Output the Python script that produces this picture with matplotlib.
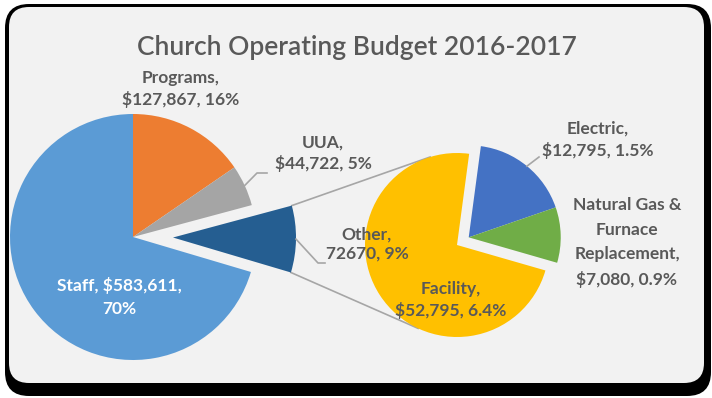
import numpy as np
import matplotlib
matplotlib.use("Agg")
import matplotlib.pyplot as plt
from matplotlib.patches import FancyBboxPatch

plt.rcParams['font.family'] = ['Lato', 'DejaVu Sans']

# main pie: Programs, UUA, Other, Staff (clockwise from 12 o'clock)
main_names = ["Programs", "UUA", "Other", "Staff"]
main_values = [127867, 44722, 72670, 583611]
main_labels = ["Programs,\n$127,867, 16%", "UUA,\n$44,722, 5%",
               "Other,\n72670, 9%", "Staff, $583,611,\n70%"]
main_colors = ["#ED7D31", "#A5A5A5", "#255E91", "#5B9BD5"]

# breakdown of "Other"
sub_names = ["Electric", "Natural Gas & Furnace Replacement", "Facility"]
sub_values = [12795, 7080, 52795]
sub_labels = ["Electric,\n$12,795, 1.5%",
              "Natural Gas &\nFurnace\nReplacement,\n$7,080, 0.9%",
              "Facility,\n$52,795, 6.4%"]
sub_colors = ["#4472C4", "#70AD47", "#FFC000"]

W, H = 712, 398
fig = plt.figure(figsize=(W / 100, H / 100), dpi=100)
ax = fig.add_axes([0, 0, 1, 1])

# chart frame with drop shadow
ax.add_patch(FancyBboxPatch((5, 2), 706, 392, boxstyle="round,pad=0,rounding_size=24",
                            fc="black", ec="none", zorder=0))
ax.add_patch(FancyBboxPatch((9, 15), 695, 376, boxstyle="round,pad=0,rounding_size=20",
                            fc="#F2F2F2", ec="none", zorder=1))

label_col = "#595959"
line_col = "#A6A6A6"

# primary pie, "Other" pulled out
c1, r1 = np.array([133.0, 161.0]), 123.0
explode = [0, 0, 40, 0]
w1, _ = ax.pie(main_values, colors=main_colors, startangle=90, counterclock=False,
               radius=r1, center=tuple(c1), explode=explode, frame=True,
               wedgeprops=dict(linewidth=0))
for w in w1:
    w.set_zorder(3)

# secondary pie
c2, r2 = np.array([457.0, 153.0]), 92.0
w2, _ = ax.pie(sub_values, colors=sub_colors, startangle=82.4, counterclock=False,
               radius=r2, center=tuple(c2), frame=True,
               wedgeprops=dict(linewidth=0))
for w in w2:
    w.set_zorder(3)

# pull Electric + Natural Gas out together along their shared bisector
a_start = w2[0].theta2
a_end = w2[1].theta1
mid = np.deg2rad((a_start + a_end) / 2)
shift = 14.0 * np.array([np.cos(mid), np.sin(mid)])
for w in w2[:2]:
    w.set_center(tuple(c2 + shift))


def polar(c, r, deg):
    a = np.deg2rad(deg)
    return np.asarray(c) + r * np.array([np.cos(a), np.sin(a)])


# connector lines from the exploded "Other" wedge to the secondary pie
other = w1[2]
p_top = polar(other.center, r1, other.theta2)
p_bot = polar(other.center, r1, other.theta1)
q_top = polar(c2, r2, 107)
q_bot = polar(c2, r2, 245)
ax.plot([p_top[0], q_top[0]], [p_top[1], q_top[1]], color=line_col, lw=1.2, zorder=2)
ax.plot([p_bot[0], q_bot[0]], [p_bot[1], q_bot[1]], color=line_col, lw=1.2, zorder=2)


def edge_point(w, r):
    return polar(w.center, r, (w.theta1 + w.theta2) / 2)


# leader lines
p = edge_point(w1[1], r1)
ax.plot([p[0], 257, 267], [p[1], 225, 225], color=line_col, lw=1.2, zorder=4)
p = edge_point(w1[2], r1)
ax.plot([p[0], 318, 325], [p[1], 135, 135], color=line_col, lw=1.2, zorder=4)
p = edge_point(w2[0], r2)
ax.plot([p[0], 539], [p[1], 241], color=line_col, lw=1.2, zorder=4)

# title
ax.text(357, 351, "Church Operating Budget 2016-2017", ha="center", va="center",
        fontsize=19, fontweight="semibold", color=label_col, zorder=5)

txt = dict(ha="center", va="center", fontsize=12.5, fontweight="bold",
           color=label_col, linespacing=1.3, zorder=5)
ax.text(181, 309, main_labels[0], **txt)
ax.text(323, 245, main_labels[1], **txt)
ax.text(367, 154, main_labels[2], **txt)
ax.text(119, 101, main_labels[3], **dict(txt, color="white", linespacing=1.6))
ax.text(598, 258, sub_labels[0], **dict(txt, linespacing=1.4))
ax.text(627, 155, sub_labels[1], **dict(txt, linespacing=1.65))
ax.text(451, 98, sub_labels[2], **dict(txt, linespacing=1.4))

ax.set_xlim(0, W)
ax.set_ylim(0, H)
ax.axis("off")
fig.savefig("out.png", dpi=100, facecolor="white")
